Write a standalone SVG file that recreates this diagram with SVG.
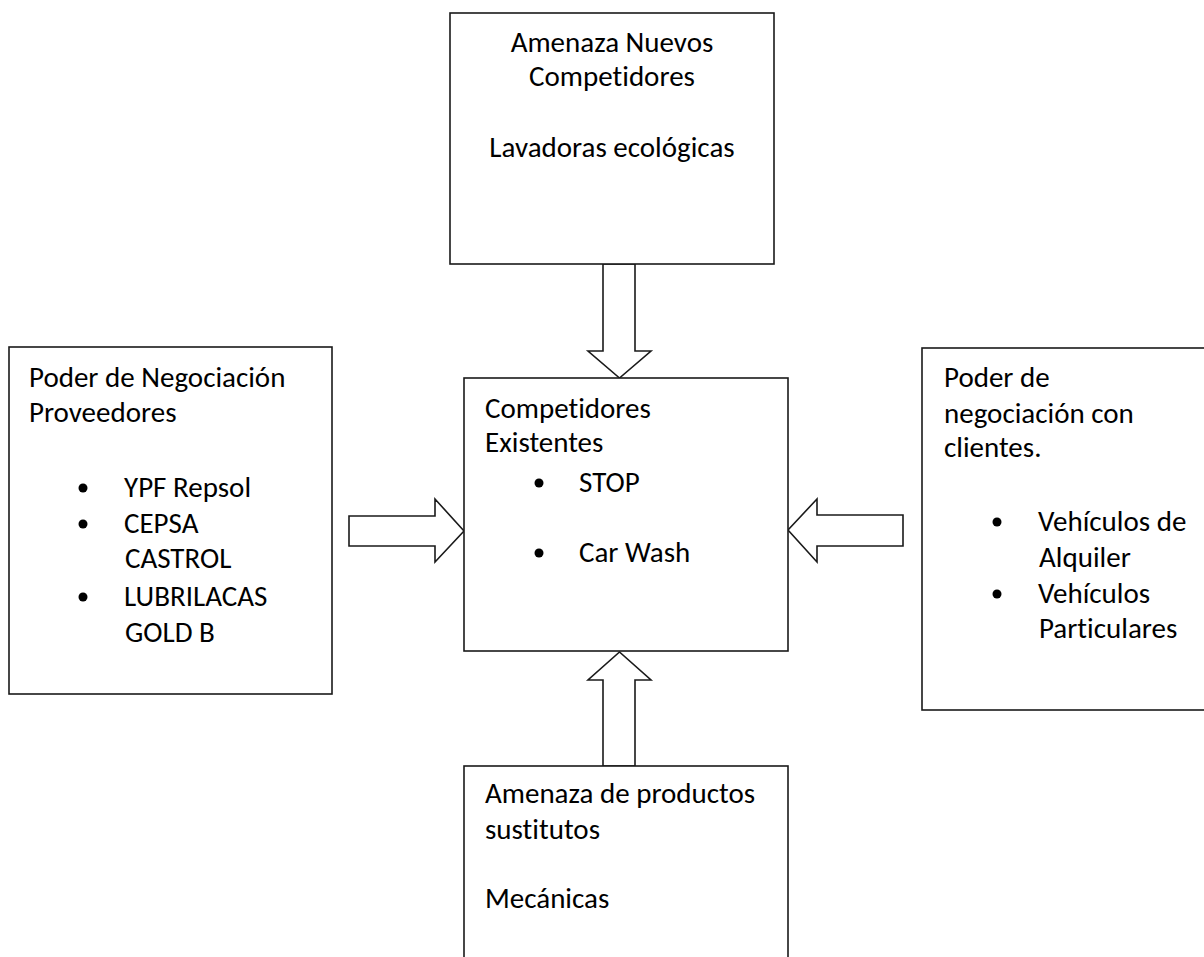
<svg xmlns="http://www.w3.org/2000/svg" width="1204" height="957" viewBox="0 0 1204 957">
  <style>
    .box { fill: #ffffff; stroke: #1a1a1a; stroke-width: 1.6; }
    .arrow { fill: #ffffff; stroke: #1a1a1a; stroke-width: 1.6; stroke-linejoin: miter; }
    .t { font-family: Carlito, Calibri, Lato, "Liberation Sans", sans-serif; font-size: 29px; fill: #000000; font-variant-ligatures: none; }
    .c { text-anchor: middle; }
    .dot { fill: #000000; }
  </style>
  <rect width="1204" height="957" fill="#ffffff"/>

  <!-- block arrows pointing into the central box -->
  <g id="connectors">
    <path class="arrow" d="M603,264 L635,264 L635,351 L651,351 L619.5,378 L588,351 L603,351 Z"/>
    <path class="arrow" d="M603,766 L635,766 L635,680 L651,680 L619.5,652 L588,680 L603,680 Z"/>
    <path class="arrow" d="M349,516 L435,516 L435,499 L464,531 L435,562 L435,546 L349,546 Z"/>
    <path class="arrow" d="M903,515 L817,515 L817,499 L788,530 L817,562 L817,546 L903,546 Z"/>
  </g>

  <g id="nuevos-competidores">
    <rect class="box" x="450" y="13" width="324" height="251"/>
    <text class="t c" x="612" y="52">Amenaza Nuevos</text>
    <text class="t c" x="612" y="86">Competidores</text>
    <text class="t c" x="612" y="157">Lavadoras ecológicas</text>
  </g>

  <g id="competidores-existentes">
    <rect class="box" x="464" y="378" width="324" height="273"/>
    <text class="t" x="485" y="418">Competidores</text>
    <text class="t" x="485" y="452">Existentes</text>
    <circle class="dot" cx="539" cy="483" r="4.5"/>
    <text class="t" x="579" y="492">STOP</text>
    <circle class="dot" cx="539" cy="553" r="4.5"/>
    <text class="t" x="579" y="562">Car Wash</text>
  </g>

  <g id="proveedores">
    <rect class="box" x="9" y="347" width="323" height="347"/>
    <text class="t" x="29" y="387">Poder de Negociación</text>
    <text class="t" x="29" y="422">Proveedores</text>
    <circle class="dot" cx="83" cy="488" r="4.5"/>
    <text class="t" x="124" y="497">YPF Repsol</text>
    <circle class="dot" cx="83" cy="524" r="4.5"/>
    <text class="t" x="124" y="533">CEPSA</text>
    <text class="t" x="125" y="568">CASTROL</text>
    <circle class="dot" cx="83" cy="597" r="4.5"/>
    <text class="t" x="124" y="606">LUBRILACAS</text>
    <text class="t" x="125" y="642">GOLD B</text>
  </g>

  <g id="clientes">
    <rect class="box" x="922" y="348" width="300" height="362"/>
    <text class="t" x="944" y="387">Poder de</text>
    <text class="t" x="944" y="423">negociación con</text>
    <text class="t" x="944" y="457">clientes.</text>
    <circle class="dot" cx="997" cy="522" r="4.5"/>
    <text class="t" x="1038" y="531">Vehículos de</text>
    <text class="t" x="1039" y="567">Alquiler</text>
    <circle class="dot" cx="997" cy="594" r="4.5"/>
    <text class="t" x="1038" y="603">Vehículos</text>
    <text class="t" x="1039" y="638">Particulares</text>
  </g>

  <g id="sustitutos">
    <rect class="box" x="464" y="766" width="324" height="210"/>
    <text class="t" x="485" y="803">Amenaza de productos</text>
    <text class="t" x="485" y="839">sustitutos</text>
    <text class="t" x="485" y="908">Mecánicas</text>
  </g>
</svg>
